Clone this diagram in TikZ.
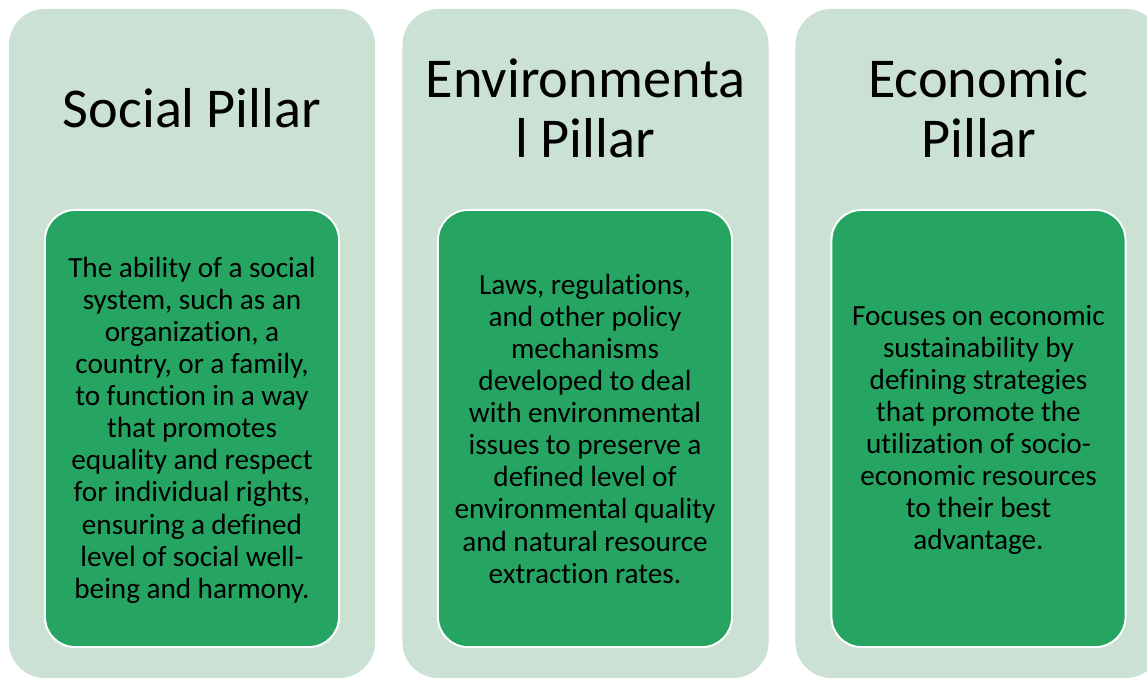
\documentclass[tikz,border=0pt]{standalone}
\usepackage{fontspec}
\setmainfont{Carlito}[Ligatures=NoCommon]
\usepackage{xcolor}

\definecolor{pillarbg}{RGB}{202,225,211}
\definecolor{pillarfill}{RGB}{38,165,98}

\tikzset{
  pillar/.style={fill=pillarbg, rounded corners=0.9cm, inner sep=0pt,
    minimum width=9.15cm, minimum height=16.725cm},
  blurb/.style={fill=pillarfill, draw=white, line width=1.4pt, rounded corners=0.75cm,
    inner sep=0pt, minimum width=7.35cm, minimum height=10.925cm},
  heading/.style={font=\fontsize{40}{42.7}\selectfont, text width=9cm,
    align=center, anchor=base, inner sep=0pt,
    execute at begin node={\spaceskip=0.21em\relax}},
  bodytext/.style={font=\fontsize{20.8}{22.85}\selectfont, text width=7.3cm,
    align=center, anchor=base, inner sep=0pt,
    execute at begin node={\spaceskip=0.22em\relax}}
}

\begin{document}
\begin{tikzpicture}[x=0.025cm,y=-0.025cm]

\useasboundingbox (0,0) rectangle (1147,679);
\clip (0,0) rectangle (1147,679);

% background pillars
\node[pillar] (social) at (192,343.5) {};
\node[pillar] (env) at (585.5,343.5) {};
\node[pillar] (econ) at (978.5,343.5) {};

% headings
\node[heading] (socialtitle) at (192,127) {Social Pillar};
\node[heading] (envtitle) at (585.5,97) {Environmenta\\l Pillar};
\node[heading] (econtitle) at (978.5,97) {Economic\\Pillar};

% green boxes
\node[blurb] (socialbox) at (192,428.5) {};
\node[blurb] (envbox) at (585,428.5) {};
\node[blurb] (econbox) at (978.5,428.5) {};

% descriptions
\node[bodytext] (socialtext) at (192,277) {The ability of a social\\system, such as an\\organization, a\\country, or a family,\\to function in a way\\that promotes\\equality and respect\\for individual rights,\\ensuring a defined\\level of social well-\\being and harmony.};
\node[bodytext] (envtext) at (585,294) {Laws, regulations,\\and other policy\\mechanisms\\developed to deal\\with environmental\\issues to preserve a\\defined level of\\environmental quality\\and natural resource\\extraction rates.};
\node[bodytext] (econtext) at (978.5,325) {Focuses on economic\\sustainability by\\defining strategies\\that promote the\\utilization of socio-\\economic resources\\to their best\\advantage.};

\end{tikzpicture}
\end{document}
